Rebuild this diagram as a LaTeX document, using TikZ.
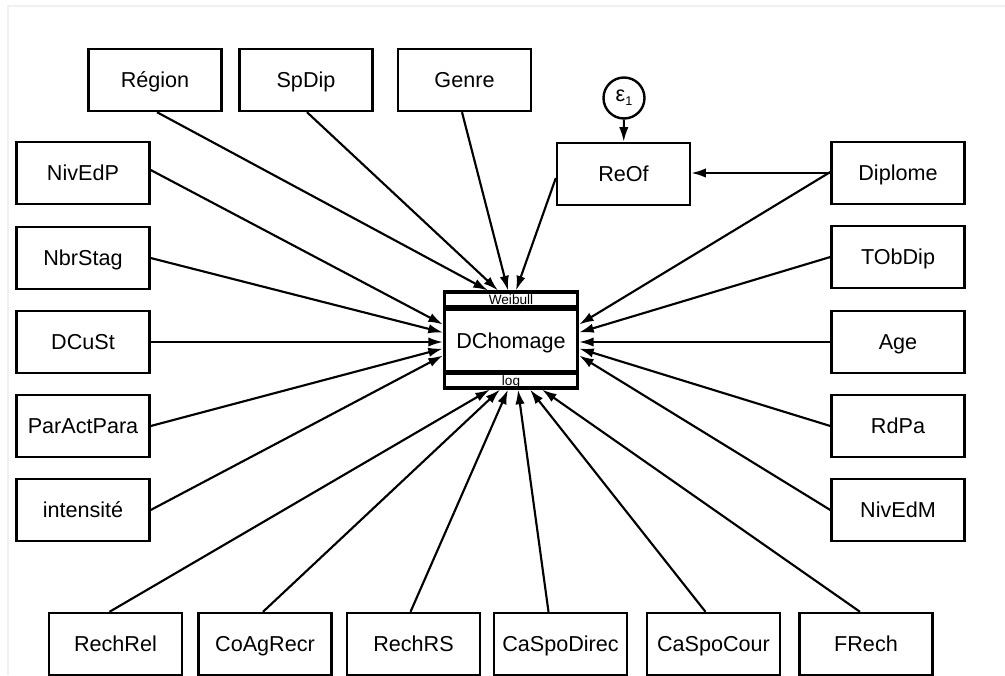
\documentclass[tikz,border=0pt]{standalone}
\usepackage{fontspec}
\setmainfont{Liberation Sans}
\usetikzlibrary{arrows.meta,calc}
\begin{document}
\begin{tikzpicture}[x=0.75pt,y=-0.75pt,
  box/.style={draw=black,line width=1.8pt,fill=white,minimum width=99.75pt,minimum height=46.5pt,inner sep=0pt,text height=11.6pt,text depth=0pt,font=\fontsize{16.2}{19}\selectfont},
  strip/.style={draw=black,line width=2.3pt,fill=white,minimum width=99.75pt,minimum height=11.25pt,inner sep=0pt,text height=7.3pt,text depth=0pt,font=\fontsize{10.2}{11}\selectfont},
  circ/.style={draw=black,line width=1.8pt,circle,minimum size=30.75pt,inner sep=0pt,font=\fontsize{16.2}{19}\selectfont},
  arr/.style={line width=1.6pt,-{Latex[length=11pt,width=7pt]}}]
\useasboundingbox (0,0) rectangle (1005,675);
\fill[white] (0,0) rectangle (1005,675);
\draw[gray!12,line width=0.8pt] (8,675) -- (8,6) -- (1005,6);
% top row
\node[box] (region) at (155,80) {Région};
\node[box] (spdip) at (306,80) {SpDip};
\node[box] (genre) at (464.5,80) {Genre};
\node[box] (reof) at (623.5,174) {ReOf};
\node[circ] (eps) at (624,98) {ε\raisebox{-0.35ex}{\fontsize{9.5}{10}\selectfont 1}};
% left column
\node[box] (nivedp) at (83,173) {NivEdP};
\node[box] (nbrstag) at (83,258) {NbrStag};
\node[box] (dcust) at (83,342) {DCuSt};
\node[box] (paractpara) at (83,426) {ParActPara};
\node[box] (intensite) at (83,510) {intensité};
% right column
\node[box] (diplome) at (898,173) {Diplome};
\node[box] (tobdip) at (898,257) {TObDip};
\node[box] (age) at (898,342) {Age};
\node[box] (rdpa) at (898,426) {RdPa};
\node[box] (nivedm) at (898,510) {NivEdM};
% bottom row
\node[box] (rechrel) at (115.5,644) {RechRel};
\node[box] (coagrecr) at (265,644) {CoAgRecr};
\node[box] (rechrs) at (413.5,644) {RechRS};
\node[box] (caspodirec) at (560.5,644) {CaSpoDirec};
\node[box] (caspocour) at (713.5,644) {CaSpoCour};
\node[box] (frech) at (866,644) {FRech};
% central
\node[strip] (wb) at (511,299.5) {Weibull};
\node[strip] (lg) at (511,380.5) {log};
\node[box,line width=2.3pt] (dch) at (511,340.5) {DChomage};
% connectors
\draw[arr] (eps) -- (reof);
\draw[arr] (diplome.west) -- (diplome.west -| reof.east);
\draw[arr] ($(region.south)+(2,0)$) -- ($(wb.north)+(-23,0)$);
\draw[arr] ($(spdip.south)+(1,0)$) -- ($(wb.north)+(-13,0)$);
\draw[arr] ($(genre.south)+(-2.5,0)$) -- ($(wb.north)+(-3,0)$);
\draw[arr] ($(reof.west)+(0,4)$) -- ($(wb.north)+(5,0)$);
\draw[arr] ($(nivedp.east)+(0,-3)$) -- ($(dch.west)+(0,-16)$);
\draw[arr] (nbrstag.east) -- ($(dch.west)+(0,-8)$);
\draw[arr] (dcust.east) -- ($(dch.west)+(0,1.5)$);
\draw[arr] (paractpara.east) -- ($(dch.west)+(0,8)$);
\draw[arr] (intensite.east) -- ($(dch.west)+(0,15)$);
\draw[arr] ($(diplome.west)+(0,-1)$) -- ($(dch.east)+(0,-16)$);
\draw[arr] (tobdip.west) -- ($(dch.east)+(0,-8)$);
\draw[arr] (age.west) -- ($(dch.east)+(0,1.5)$);
\draw[arr] (rdpa.west) -- ($(dch.east)+(0,8)$);
\draw[arr] (nivedm.west) -- ($(dch.east)+(0,15)$);
\draw[arr] ($(rechrel.north)+(-6,0)$) -- ($(lg.south)+(-21,0)$);
\draw[arr] ($(coagrecr.north)+(-2,0)$) -- ($(lg.south)+(-11,0)$);
\draw[arr] ($(rechrs.north)+(-3,0)$) -- ($(lg.south)+(-3,0)$);
\draw[arr] ($(caspodirec.north)+(-12,0)$) -- ($(lg.south)+(7,0)$);
\draw[arr] ($(caspocour.north)+(-8,0)$) -- ($(lg.south)+(19,0)$);
\draw[arr] ($(frech.north)+(-6,0)$) -- ($(lg.south)+(31,0)$);
\end{tikzpicture}
\end{document}
